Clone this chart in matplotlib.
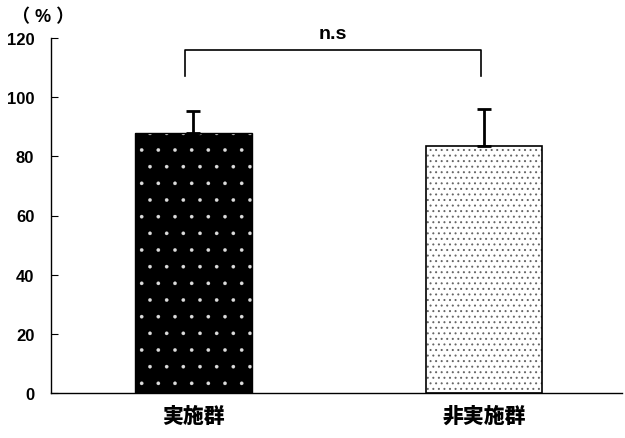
import matplotlib
matplotlib.use("Agg")
import matplotlib.pyplot as plt

plt.rcParams['font.family'] = ['Liberation Sans', 'Noto Sans CJK JP', 'DejaVu Sans']

categories = ['実施群', '非実施群']
values = [88.0, 83.5]
errors = [7.3, 12.5]
yticks = [0, 20, 40, 60, 80, 100, 120]

fig = plt.figure(figsize=(6.25, 4.39), dpi=100)
ax = fig.add_axes([51/625, 45/439, 571/625, 355/439])

x = [0, 1]
w = 0.4
# bar 1: black with white dots
plt.rcParams['hatch.linewidth'] = 0.2
b1 = ax.bar(x[0], values[0], width=w, color='black', edgecolor='#dddddd', hatch='.', linewidth=0, zorder=2)
ax.bar(x[0], values[0], width=w, fill=False, edgecolor='black', linewidth=1.0, zorder=3)
# bar 2: white with grey dots
plt.rcParams['hatch.linewidth'] = 0.7
b2 = ax.bar(x[1], values[1], width=w, color='white', edgecolor='#666666', hatch='...', linewidth=0, zorder=2)
ax.bar(x[1], values[1], width=w, fill=False, edgecolor='black', linewidth=1.2, zorder=3)
plt.rcParams['hatch.linewidth'] = 1.0

ax.errorbar(x, values, yerr=[[0, 0], errors], fmt='none', ecolor='black',
            elinewidth=2, capsize=5, capthick=2, zorder=4)

# significance bracket
by_top, by_bot = 115.8, 107.3
bx = [-0.028, 0.99]
ax.plot([bx[0], bx[0], bx[1], bx[1]], [by_bot, by_top, by_top, by_bot], color='black', lw=1.2, clip_on=False)
ax.text(sum(bx) / 2, by_top + 3, 'n.s', ha='center', va='bottom', fontsize=14, fontweight='bold')

ax.set_xlim(-0.49, 1.475)
ax.set_ylim(0, 120)
ax.set_yticks(yticks)
ax.set_xticks(x)
ax.set_xticklabels(categories, fontsize=15, fontweight='heavy', family=['Noto Sans CJK JP'])
ax.tick_params(axis='y', direction='in', length=5, labelsize=12, pad=12)
ax.tick_params(axis='x', length=0, pad=9)
for lab in ax.get_yticklabels():
    lab.set_fontweight('bold')
ax.spines['top'].set_visible(False)
ax.spines['right'].set_visible(False)
ax.spines['left'].set_linewidth(1)
ax.spines['bottom'].set_linewidth(1)

fig.text(12/625, 1 - 18/439, '（ % ）', fontsize=13, fontweight='bold', va='center', ha='left',
         family=['Liberation Sans', 'Noto Sans CJK JP'])

fig.savefig('out.png', dpi=100)
